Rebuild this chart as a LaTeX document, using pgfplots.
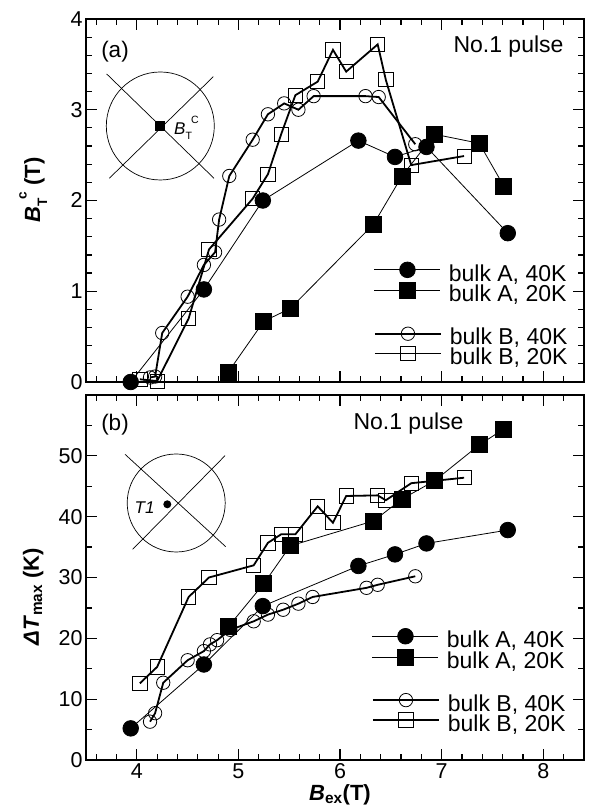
\documentclass[border=0pt]{standalone}
\usepackage{pgfplots}
\pgfplotsset{compat=1.18}
\usepackage{fontspec}
\setmainfont{Liberation Sans}

\newcommand{\legfont}{\fontsize{23}{25}\selectfont}
% B with subscript T and superscript c set one after the other
\newcommand{\BTc}[1]{\textit{B}\raisebox{-0.32em}{\scalebox{0.62}{T}}\kern-0.05em\raisebox{0.62em}{\scalebox{0.62}{#1}}}

% shared look of both panels
\pgfplotsset{
  panel/.style={
    scale only axis, width=498pt,
    xmin=3.5, xmax=8.4,
    xtick={4,5,6,7,8},
    minor xtick={3.6,3.8,...,8.4},
    tick align=inside, tick pos=both,
    major tick length=11pt, minor tick length=6pt,
    tick style={line width=1.2pt, black},
    axis line style={line width=1.4pt},
    tick label style={font=\fontsize{21.5}{24}\selectfont},
    /pgf/number format/assume math mode=true,
    label style={font=\fontsize{22}{25}\selectfont\bfseries},
    legend image code/.code={
      \draw[#1, mark repeat=2, mark phase=2, yshift=0.36em]
        plot coordinates {(0pt,0pt) (33pt,0pt) (66pt,0pt)};},
    legend style={draw=none, fill=none, inner sep=0pt, row sep=0pt,
      font=\legfont, anchor=north west,
      nodes={inner sep=0pt},
      /tikz/every odd column/.append style={column sep=8pt}},
    legend cell align=left,
  },
  overlay panel/.style={panel, hide axis},
  sA40/.style={black, line width=0.8pt, mark=*, mark size=7.8pt, mark options={solid, fill=black}},
  sA20/.style={black, line width=0.8pt, mark=square*, mark size=8pt, mark options={solid, fill=black}},
  sB40/.style={black, line width=1.8pt, mark=o, mark size=6.7pt, mark options={solid, line width=0.8pt}},
  sB20/.style={black, line width=1.8pt, mark=square, mark size=7.1pt, mark options={solid, line width=0.8pt}},
}

\begin{document}
\begin{tikzpicture}[x=1pt,y=1pt]
\path[use as bounding box] (0,0) rectangle (597,810);

% ---------------- panel (a): critical trapped field ----------------
\begin{axis}[panel, at={(86pt,428pt)}, anchor=south west, height=363pt,
  ymin=0, ymax=4, ytick={0,1,2,3,4}, minor ytick={0.2,0.4,...,3.8},
  xticklabels={},
  ylabel={\BTc{c} (T)},
  ylabel style={at={(axis description cs:-0.106,0.529)}, anchor=center},
  legend style={at={(axis description cs:0.578,0.331)}}]
\addplot[sA40] coordinates {(3.94,0.0) (4.66,1.02) (5.24,2.00) (6.18,2.66) (6.54,2.48) (6.85,2.59) (7.65,1.64)};
\addlegendentry{\legfont bulk A, 40K}
\addplot[sA20] coordinates {(4.90,0.11) (5.25,0.67) (5.51,0.81) (6.33,1.74) (6.61,2.27) (6.93,2.73) (7.37,2.63) (7.61,2.16)};
\addlegendentry{\legfont bulk A, 20K}
\end{axis}
\begin{axis}[overlay panel, at={(86pt,428pt)}, anchor=south west, height=363pt,
  ymin=0, ymax=4,
  legend style={at={(axis description cs:0.578,0.152)}}]
\addplot[sB40] coordinates {(4.13,0.05) (4.18,0.06) (4.25,0.54) (4.50,0.94) (4.66,1.29) (4.77,1.43) (4.81,1.79) (4.91,2.27) (5.14,2.67) (5.29,2.95) (5.45,3.07) (5.59,3.00) (5.74,3.15) (6.25,3.15) (6.38,3.14) (6.74,2.62)};
\addlegendentry{\legfont bulk B, 40K}
\addplot[sB20] coordinates {(4.03,0.03) (4.20,0.01) (4.51,0.70) (4.71,1.46) (5.14,2.02) (5.29,2.29) (5.42,2.73) (5.56,3.16) (5.78,3.31) (5.93,3.66) (6.06,3.42) (6.37,3.72) (6.45,3.33) (6.70,2.39) (7.22,2.49)};
\addlegendentry{\legfont bulk B, 20K}
\end{axis}

% ---------------- panel (b): maximum temperature rise ----------------
\begin{axis}[panel, at={(86pt,50pt)}, anchor=south west, height=365pt,
  ymin=0, ymax=60, ytick={0,10,...,50}, minor ytick={5,15,...,55},
  xlabel={\textit{B}\textsubscript{ex}(T)},
  xlabel style={at={(axis description cs:0.51,-0.096)}, anchor=center},
  ylabel={\textit{ΔT}\textsubscript{max} (K)},
  ylabel style={at={(axis description cs:-0.106,0.447)}, anchor=center},
  legend style={at={(axis description cs:0.574,0.361)}}]
\addplot[sA40] coordinates {(3.94,5.2) (4.66,15.7) (5.24,25.3) (6.18,31.9) (6.54,33.8) (6.85,35.6) (7.65,37.8)};
\addlegendentry{\legfont bulk A, 40K}
\addplot[sA20] coordinates {(4.90,21.9) (5.25,29.0) (5.51,35.2) (6.33,39.3) (6.61,42.9) (6.93,45.9) (7.37,51.8) (7.61,54.4)};
\addlegendentry{\legfont bulk A, 20K}
\end{axis}
\begin{axis}[overlay panel, at={(86pt,50pt)}, anchor=south west, height=365pt,
  ymin=0, ymax=60,
  legend style={at={(axis description cs:0.574,0.183)}}]
\addplot[sB40] coordinates {(4.13,6.3) (4.18,7.7) (4.26,12.7) (4.50,16.4) (4.66,17.9) (4.72,19.0) (4.79,19.7) (4.92,21.4) (5.15,22.8) (5.29,23.9) (5.44,24.7) (5.59,25.7) (5.73,26.8) (6.26,28.3) (6.37,28.8) (6.74,30.2)};
\addlegendentry{\legfont bulk B, 40K}
\addplot[sB20] coordinates {(4.03,12.6) (4.20,15.3) (4.51,26.8) (4.71,30.0) (5.15,32.0) (5.29,35.7) (5.42,37.1) (5.56,37.1) (5.78,41.7) (5.93,39.0) (6.06,43.4) (6.37,43.5) (6.45,42.7) (6.70,45.5) (7.22,46.4)};
\addlegendentry{\legfont bulk B, 20K}
\end{axis}

% panel tags and pulse notes
\node[font=\fontsize{22.5}{25}\selectfont] at (115,758.3) {(a)};
\node[font=\fontsize{23}{25}\selectfont, anchor=east] at (567,763.3) {No.1 pulse};
\node[font=\fontsize{22.5}{25}\selectfont] at (115,385) {(b)};
\node[font=\fontsize{23}{25}\selectfont, anchor=west] at (350,386.7) {No.1 pulse};

% sketch of the bulk with the sensor at the centre
\draw[line width=0.7pt] (160.3,684) circle (54);
\draw[line width=0.7pt] (106.7,736) -- (214,631.7);
\draw[line width=0.7pt] (213.3,733.3) -- (109.3,631.7);
\fill (155,679) rectangle (165,689);
\node[font=\fontsize{17}{19}\selectfont, anchor=west, inner sep=0pt] at (174,682) {\BTc{C}};

% sketch of the bulk with thermometer T1
\draw[line width=0.7pt] (176.2,307) circle (49);
\draw[line width=0.7pt] (125,355.7) -- (225.7,263.3);
\draw[line width=0.7pt] (225,354.3) -- (132.7,260.7);
\fill (167.3,305.7) circle (4);
\node[font=\fontsize{17}{19}\selectfont\itshape, anchor=east] at (158,302) {T1};
\end{tikzpicture}
\end{document}
